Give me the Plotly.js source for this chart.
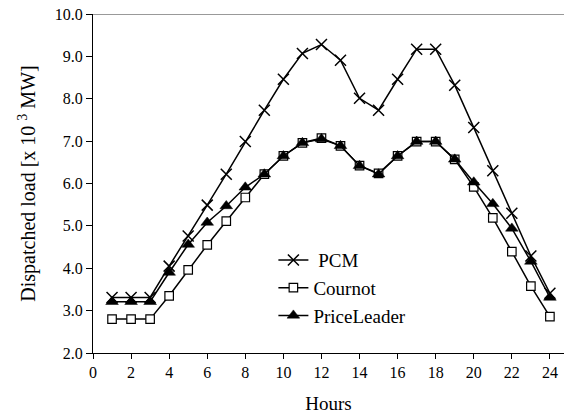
<!DOCTYPE html>
<html>
<head>
<meta charset="utf-8">
<script src="https://cdn.plot.ly/plotly-3.0.1.min.js"></script>
<style>html,body{margin:0;padding:0;background:#fff;}#chart{width:564px;height:420px;}</style>
</head>
<body>
<div id="chart"></div>
<script>
const hours = [1,2,3,4,5,6,7,8,9,10,11,12,13,14,15,16,17,18,19,20,21,22,23,24];
const pcm = [3.31,3.31,3.31,4.05,4.76,5.49,6.22,6.99,7.73,8.46,9.07,9.28,8.91,8.01,7.73,8.46,9.17,9.17,8.32,7.32,6.30,5.30,4.29,3.41];
const cournot = [2.80,2.80,2.80,3.35,3.96,4.55,5.11,5.67,6.22,6.65,6.96,7.07,6.89,6.42,6.24,6.65,6.99,6.99,6.57,5.92,5.19,4.39,3.58,2.86];
const priceLeader = [3.21,3.21,3.21,3.90,4.56,5.08,5.47,5.91,6.22,6.65,6.96,7.05,6.89,6.42,6.22,6.65,6.99,6.99,6.57,6.03,5.52,4.94,4.16,3.31];
const xTicks = [0,2,4,6,8,10,12,14,16,18,20,22,24];
const yTicks = [2,3,4,5,6,7,8,9,10];
const yTickText = yTicks.map(v => v.toFixed(1));

const FONT = "'Liberation Serif', 'Times New Roman', serif";

const traces = [
  {x: hours, y: pcm, name: '\u00a0PCM', type: 'scatter', mode: 'lines+markers',
   line: {color: '#000', width: 1.5},
   marker: {symbol: 'x-thin-open', size: 11, color: '#000', line: {color: '#000', width: 1.5}}},
  {x: hours, y: cournot, name: 'Cournot', type: 'scatter', mode: 'lines+markers',
   line: {color: '#000', width: 1.5},
   marker: {symbol: 'square', size: 8.5, color: '#fff', line: {color: '#000', width: 1.2}}},
  {x: hours, y: priceLeader, name: 'PriceLeader', type: 'scatter', mode: 'lines+markers',
   line: {color: '#000', width: 1.5},
   marker: {symbol: 'triangle-up', size: 11, color: '#000', line: {color: '#000', width: 0.5}}}
];

const layout = {
  width: 564, height: 420,
  margin: {l: 92.5, r: 0, t: 14, b: 67},
  paper_bgcolor: '#fff', plot_bgcolor: '#fff',
  font: {family: FONT, color: '#000', size: 16},
  showlegend: true,
  legend: {x: 0.383, y: 0.33, xanchor: 'left', yanchor: 'top', bgcolor: 'rgba(0,0,0,0)',
           font: {family: FONT, size: 19, color: '#000'}, tracegroupgap: 0, itemwidth: 30},
  xaxis: {range: [0, 24.74], tickvals: xTicks, ticktext: xTicks.map(String),
          showgrid: false, zeroline: false, showline: true, linecolor: '#000', linewidth: 1,
          ticks: 'outside', ticklen: 5, tickcolor: '#000', tickwidth: 1,
          tickfont: {family: FONT, size: 16},
          title: {text: 'Hours', font: {family: FONT, size: 19}, standoff: 16}},
  yaxis: {range: [2, 10], tickvals: yTicks, ticktext: yTickText,
          showgrid: false, zeroline: false, showline: true, linecolor: '#000', linewidth: 1,
          ticks: 'outside', ticklen: 6, tickcolor: '#000', tickwidth: 1,
          tickfont: {family: FONT, size: 16},
          title: {text: 'Dispatched load [x 10 <sup>3</sup> MW]', font: {family: FONT, size: 20}, standoff: 13}},
  shapes: [{type: 'line', xref: 'paper', yref: 'y', x0: 0, x1: 1, y0: 10, y1: 10,
            line: {color: '#999', width: 2}}]
};

Plotly.newPlot('chart', traces, layout, {displayModeBar: false, staticPlot: true});
</script>
</body>
</html>
